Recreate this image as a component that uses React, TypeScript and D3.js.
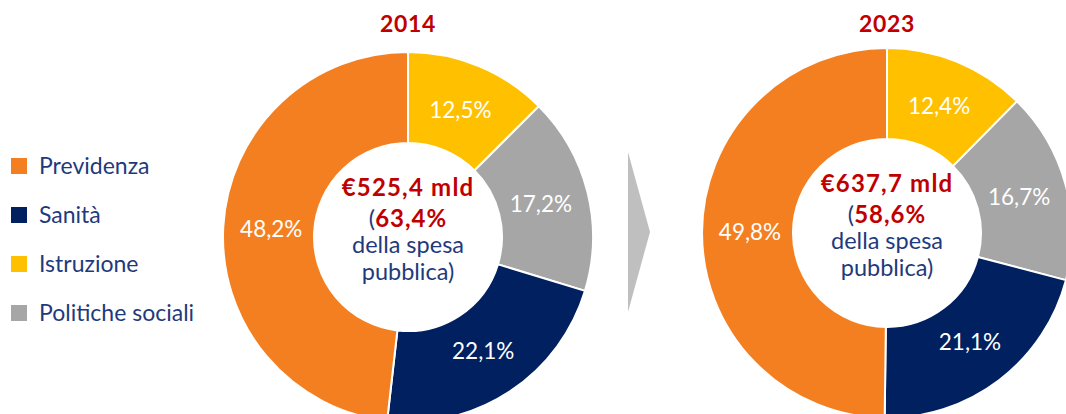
import React from "react";
import * as d3 from "d3";

// slices clockwise from 12 o'clock
const categories = ["Istruzione", "Politiche sociali", "Sanità", "Previdenza"];
const colors = ["#FFC000", "#A6A6A6", "#002060", "#F47F20"];
const legendOrder = ["Previdenza", "Sanità", "Istruzione", "Politiche sociali"];

const years = ["2014", "2023"];
const values2014 = [12.5, 17.2, 22.1, 48.2];
const values2023 = [12.4, 16.7, 21.1, 49.8];
const totals = ["€525,4 mld", "€637,7 mld"];
const shares = ["63,4%", "58,6%"];

const RED = "#C00000";
const NAVY = "#1F3A7C";
const FONT = "Lato, 'Noto Sans', sans-serif";

const fmt = (v: number) => v.toFixed(1).replace(".", ",") + "%";

const Donut = ({ cx, cy, values, year, total, share }) => {
  const pie = d3.pie<number>().sort(null).value((d) => d);
  const arc = d3.arc<d3.PieArcDatum<number>>().innerRadius(94).outerRadius(185);
  const labelArc = d3.arc<d3.PieArcDatum<number>>().innerRadius(137).outerRadius(137);
  const arcs = pie(values);
  return (
    <g>
      <text x={cx} y={32} textAnchor="middle" fill={RED} fontWeight="bold" fontSize={23} letterSpacing={0.6}>
        {year}
      </text>
      <g transform={`translate(${cx},${cy})`}>
        {arcs.map((a, i) => (
          <path key={i} d={arc(a) || ""} fill={colors[i]} stroke="#fff" strokeWidth={2} />
        ))}
        {arcs.map((a, i) => {
          const [x, y] = labelArc.centroid(a);
          return (
            <text key={i} x={x} y={y} dy="0.35em" textAnchor="middle" fill="#fff" fontSize={22.5}>
              {fmt(values[i])}
            </text>
          );
        })}
        <g textAnchor="middle" fontSize={23.5}>
          <text y={-41} fill={RED} fontWeight="bold" fontSize={24} letterSpacing={1.2}>{total}</text>
          <text y={-10} fill={NAVY}>
            (<tspan fill={RED} fontWeight="bold" fontSize={24} letterSpacing={1}>{share}</tspan>
          </text>
          <text y={16} fill={NAVY}>della spesa</text>
          <text y={43} fill={NAVY}>pubblica)</text>
        </g>
      </g>
    </g>
  );
};

export default function App() {
  const legendY = d3.scalePoint<string>().domain(legendOrder).range([166, 313]);
  return (
    <svg
      width={1066}
      height={414}
      style={{ position: "absolute", left: 0, top: 0, fontFamily: FONT }}
    >
      <rect width={1066} height={414} fill="#fff" />
      {legendOrder.map((name) => {
        const y = legendY(name) || 0;
        return (
          <g key={name}>
            <rect x={11} y={y - 8} width={16} height={16} fill={colors[categories.indexOf(name)]} />
            <text x={39} y={y} dy="0.35em" fill={NAVY} fontSize={23}>
              {name}
            </text>
          </g>
        );
      })}
      <path d="M628,152 L650,232 L628,312 Z" fill="#BFBFBF" />
      <Donut cx={408} cy={237} values={values2014} year={years[0]} total={totals[0]} share={shares[0]} />
      <Donut cx={887} cy={233} values={values2023} year={years[1]} total={totals[1]} share={shares[1]} />
    </svg>
  );
}
